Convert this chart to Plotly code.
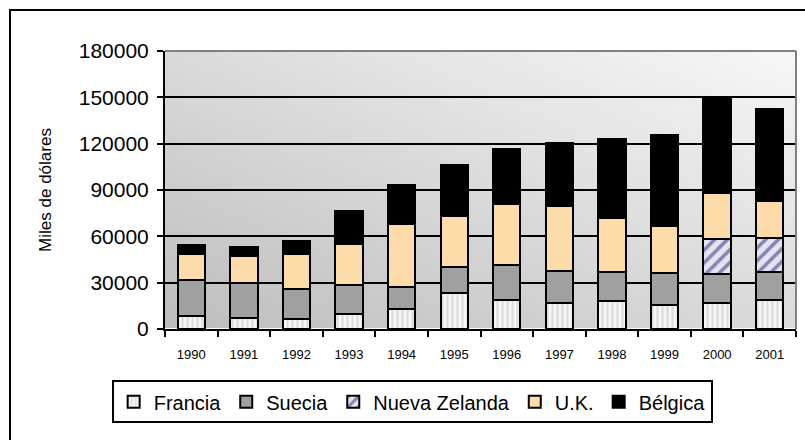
import base64
import plotly.graph_objects as go

years = ["1990", "1991", "1992", "1993", "1994", "1995", "1996", "1997", "1998", "1999", "2000", "2001"]
francia = [8600, 7300, 6300, 9900, 12700, 23100, 19000, 16600, 17900, 15300, 16600, 19000]
suecia = [23300, 22300, 19400, 18400, 14300, 16800, 22200, 20700, 19200, 20700, 19200, 18100]
nueva_zelanda = [None, None, None, None, None, None, None, None, None, None, 22200, 21800]
uk = [16600, 17700, 22800, 26500, 40800, 33000, 39500, 42100, 34500, 30500, 30300, 24200]
belgica = [6000, 6000, 8400, 21800, 25600, 33500, 36100, 40800, 51400, 59300, 61700, 59300]

y_ticks = [0, 30000, 60000, 90000, 120000, 150000, 180000]

FONT = "Liberation Sans, Arial, sans-serif"
outline = dict(color="black", width=2)

fig = go.Figure()
fig.add_bar(name="Francia", x=years, y=francia,
            marker=dict(color="#f4f4f4", line=outline,
                        pattern=dict(shape="|", fgcolor="#bdbdbd", bgcolor="#f6f6f6",
                                     size=5, solidity=0.4)))
fig.add_bar(name="Suecia", x=years, y=suecia,
            marker=dict(color="#a0a0a0", line=outline))
fig.add_bar(name="Nueva Zelanda", x=years, y=nueva_zelanda,
            marker=dict(color="#e8e8f2", line=outline,
                        pattern=dict(shape="/", fgcolor="#23237e", bgcolor="#e4e4ee",
                                     size=9, solidity=0.4)))
fig.add_bar(name="U.K.", x=years, y=uk,
            marker=dict(color="#fddcaa", line=outline))
fig.add_bar(name="Bélgica", x=years, y=belgica,
            marker=dict(color="#000000", line=outline))

svg = """<svg xmlns='http://www.w3.org/2000/svg' width='631' height='278' viewBox='0 0 631 278' preserveAspectRatio='none'>
<defs><linearGradient id='g' x1='0' y1='1' x2='1' y2='0'>
<stop offset='0' stop-color='#bdbdbd'/><stop offset='1' stop-color='#f7f7f7'/></linearGradient></defs>
<rect width='631' height='278' fill='url(#g)'/></svg>"""
src = "data:image/svg+xml;base64," + base64.b64encode(svg.encode()).decode()

fig.update_layout(
    width=805, height=440,
    margin=dict(l=165, r=9, t=51, b=111, autoexpand=False),
    barmode="stack",
    bargap=0.48,
    paper_bgcolor="white",
    plot_bgcolor="#dddddd",
    font=dict(family=FONT, color="black", size=20),
    images=[dict(source=src, xref="paper", yref="paper", x=0, y=1, sizex=1, sizey=1,
                 xanchor="left", yanchor="top", sizing="stretch", layer="below")],
    legend=dict(orientation="h", xref="container", yref="container",
                x=0.512, xanchor="center", y=0.087, yanchor="middle",
                traceorder="normal", bordercolor="black", borderwidth=2,
                bgcolor="white", font=dict(size=20, family=FONT),
                itemwidth=30, tracegroupgap=0),
    xaxis=dict(type="category", showgrid=False, showline=True, linecolor="black", linewidth=2,
               ticks="outside", tickson="boundaries", ticklen=6, tickwidth=2, tickcolor="black",
               tickfont=dict(size=13, family=FONT), ticklabelstandoff=12, automargin=False),
    yaxis=dict(range=[0, 180000], tickvals=y_ticks, ticktext=[str(v) for v in y_ticks],
               showgrid=True, gridcolor="black", gridwidth=2,
               showline=True, linecolor="black", linewidth=2,
               ticks="outside", ticklen=6, tickwidth=2, tickcolor="black",
               tickfont=dict(size=21, family=FONT), ticklabelstandoff=4, automargin=False,
               title=dict(text="Miles de dólares", font=dict(size=17, family=FONT), standoff=23)),
    shapes=[
        dict(type="line", xref="paper", yref="paper", x0=0, x1=1, y0=1, y1=1,
             line=dict(color="#808080", width=2)),
        dict(type="line", xref="paper", yref="paper", x0=1, x1=1, y0=0, y1=1,
             line=dict(color="#808080", width=2)),
        dict(type="rect", xref="paper", yref="paper", x0=-0.2456, x1=1.08, y0=-0.5, y1=1.1475,
             line=dict(color="black", width=2), fillcolor="rgba(0,0,0,0)", layer="above"),
    ],
)

fig.write_html("out.html", config={"displayModeBar": False},
               post_script="document.body.style.margin='0';document.body.style.overflow='hidden';")
